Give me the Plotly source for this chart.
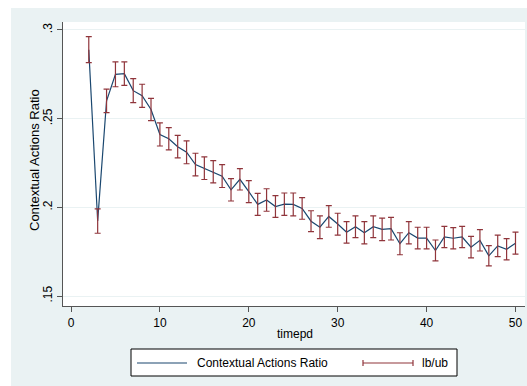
import plotly.graph_objects as go

timepd = list(range(2, 51))
ratio_mean = [0.2889, 0.1923, 0.2601, 0.2750, 0.2754, 0.2658, 0.2629, 0.2552, 0.2411,
              0.2387, 0.2342, 0.2311, 0.2241, 0.2220, 0.2201, 0.2176, 0.2099, 0.2158,
              0.2089, 0.2017, 0.2042, 0.2005, 0.2018, 0.2017, 0.1994, 0.1922, 0.1888,
              0.1949, 0.1906, 0.1860, 0.1891, 0.1857, 0.1891, 0.1876, 0.1880, 0.1795,
              0.1857, 0.1827, 0.1827, 0.1757, 0.1833, 0.1826, 0.1833, 0.1776, 0.1814,
              0.1727, 0.1783, 0.1764, 0.1798]
ratio_ub = [0.2962, 0.1991, 0.2667, 0.2820, 0.2820, 0.2726, 0.2694, 0.2615, 0.2476,
            0.2449, 0.2406, 0.2375, 0.2305, 0.2285, 0.2263, 0.2241, 0.2162, 0.2218,
            0.2151, 0.2079, 0.2105, 0.2066, 0.2081, 0.2081, 0.2055, 0.1981, 0.1952,
            0.2010, 0.1967, 0.1920, 0.1952, 0.1920, 0.1952, 0.1939, 0.1944, 0.1857,
            0.1920, 0.1888, 0.1888, 0.1816, 0.1893, 0.1886, 0.1893, 0.1837, 0.1874,
            0.1784, 0.1843, 0.1824, 0.1860]
ratio_lb = [0.2816, 0.1854, 0.2534, 0.2680, 0.2688, 0.2590, 0.2564, 0.2489, 0.2346,
            0.2324, 0.2279, 0.2246, 0.2177, 0.2157, 0.2138, 0.2112, 0.2036, 0.2098,
            0.2027, 0.1955, 0.1978, 0.1944, 0.1955, 0.1952, 0.1933, 0.1863, 0.1824,
            0.1888, 0.1844, 0.1799, 0.1829, 0.1794, 0.1829, 0.1812, 0.1816, 0.1733,
            0.1794, 0.1766, 0.1766, 0.1698, 0.1773, 0.1766, 0.1773, 0.1715, 0.1754,
            0.1670, 0.1722, 0.1704, 0.1736]

x_ticks = [0, 10, 20, 30, 40, 50]
y_ticks = [0.15, 0.2, 0.25, 0.3]
y_tick_labels = [".15", ".2", ".25", ".3"]

series_name = "Contextual Actions Ratio"
band_name = "lb/ub"
x_title = "timepd"

navy = "#1a476f"
maroon = "#90353b"
region_bg = "#eaf2f3"
font_family = "Liberation Sans, Arial, sans-serif"

fig = go.Figure()
fig.add_trace(go.Scatter(x=timepd, y=ratio_mean, mode="lines",
                         line=dict(color=navy, width=1.2), name=series_name,
                         showlegend=False, hoverinfo="skip"))
fig.add_trace(go.Scatter(
    x=timepd, y=ratio_ub, mode="markers",
    marker=dict(size=1, color="rgba(0,0,0,0)"),
    error_y=dict(type="data", symmetric=False,
                 array=[0] * len(ratio_ub),
                 arrayminus=[u - l for u, l in zip(ratio_ub, ratio_lb)],
                 color=maroon, thickness=1.2, width=3),
    name=band_name, showlegend=False, hoverinfo="skip"))

W, H = 527, 386
ml, mr, mt, mb = 63, 2, 22, 80
pw, ph = W - ml - mr, H - mt - mb


def px(xp):
    return (xp - ml) / pw


def py(yp):
    return (H - mb - yp) / ph


shapes = []
# white outer margins (left & top)
shapes.append(dict(type="rect", xref="paper", yref="paper", x0=px(-5), x1=px(11),
                   y0=py(H + 5), y1=py(-5), fillcolor="white", line=dict(width=0), layer="below"))
shapes.append(dict(type="rect", xref="paper", yref="paper", x0=px(-5), x1=px(W + 5),
                   y0=py(8), y1=py(-5), fillcolor="white", line=dict(width=0), layer="below"))
# legend box
shapes.append(dict(type="rect", xref="paper", yref="paper", x0=px(131), x1=px(457),
                   y0=py(376), y1=py(349), fillcolor="white", line=dict(color="black", width=1)))
ly = 363
shapes.append(dict(type="line", xref="paper", yref="paper", x0=px(137), x1=px(187),
                   y0=py(ly), y1=py(ly), line=dict(color=navy, width=1.2)))
shapes.append(dict(type="line", xref="paper", yref="paper", x0=px(363), x1=px(413),
                   y0=py(ly), y1=py(ly), line=dict(color=maroon, width=1.2)))
for cx in (363, 413):
    shapes.append(dict(type="line", xref="paper", yref="paper", x0=px(cx), x1=px(cx),
                       y0=py(ly - 3), y1=py(ly + 3), line=dict(color=maroon, width=1.2)))

annotations = [
    dict(text=series_name, xref="paper", yref="paper", x=px(195), y=py(ly),
         xanchor="left", yanchor="middle", showarrow=False,
         font=dict(family=font_family, size=12, color="black")),
    dict(text=band_name, xref="paper", yref="paper", x=px(420), y=py(ly),
         xanchor="left", yanchor="middle", showarrow=False,
         font=dict(family=font_family, size=12, color="black")),
    dict(text=x_title, xref="paper", yref="paper", x=px(295), y=py(334),
         xanchor="center", yanchor="middle", showarrow=False,
         font=dict(family=font_family, size=12, color="black")),
    dict(text=series_name, xref="paper", yref="paper", x=px(34), y=py(160),
         xanchor="center", yanchor="middle", showarrow=False, textangle=-90,
         font=dict(family=font_family, size=13, color="black")),
]

fig.update_layout(
    width=W, height=H,
    margin=dict(l=ml, r=mr, t=mt, b=mb, pad=0),
    paper_bgcolor=region_bg,
    plot_bgcolor="white",
    font=dict(family=font_family, size=12, color="black"),
    showlegend=False,
    shapes=shapes,
    annotations=annotations,
    xaxis=dict(range=[-0.9, 51.07], tickvals=x_ticks, ticks="outside", ticklen=5,
               tickcolor="#555555", showline=True, linecolor="#555555", linewidth=1.2,
               showgrid=False, zeroline=False, tickfont=dict(size=12)),
    yaxis=dict(range=[0.1444, 0.3045], tickvals=y_ticks, ticktext=y_tick_labels,
               ticks="outside", ticklen=5, tickcolor="#555555", tickangle=-90,
               showline=True, linecolor="#555555", linewidth=1.2,
               showgrid=True, gridcolor=region_bg, gridwidth=1,
               zeroline=False, tickfont=dict(size=12)),
)

fig.write_html("out.html")
